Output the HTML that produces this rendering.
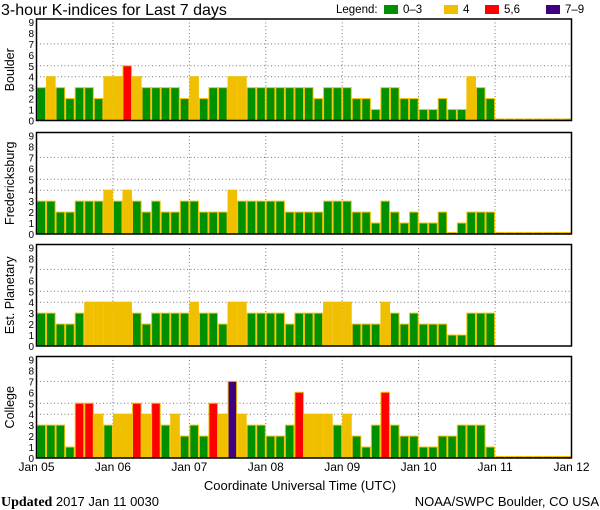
<!DOCTYPE html>
<html><head><meta charset="utf-8"><style>
body{margin:0;background:#fff;}
svg{display:block;font-family:"Liberation Sans",sans-serif;}
</style></head><body>
<svg id="chart" width="600" height="510" viewBox="0 0 600 510">
<text x="1" y="15" font-size="16" fill="#000">3-hour K-indices for Last 7 days</text>
<g font-size="11.5">
<text x="336" y="13">Legend:</text>
<rect x="384" y="5" width="14" height="9" fill="#009000"/>
<text x="403" y="13">0–3</text>
<rect x="444" y="5" width="14" height="9" fill="#f0c000"/>
<text x="463" y="13">4</text>
<rect x="485" y="5" width="14" height="9" fill="#ff0000"/>
<text x="504" y="13">5,6</text>
<rect x="546" y="5" width="14" height="9" fill="#400080"/>
<text x="565" y="13">7–9</text>
</g>
<g id="panels"></g>
<text x="300" y="490" font-size="13" text-anchor="middle">Coordinate Universal Time (UTC)</text>
<text x="1" y="506" font-size="14" font-family="Liberation Serif, serif"><tspan font-weight="bold">Updated</tspan> <tspan font-family="Liberation Sans, sans-serif" font-size="13">2017 Jan 11 0030</tspan></text>
<text x="599" y="506" font-size="13" text-anchor="end">NOAA/SWPC Boulder, CO USA</text>
</svg>
<script>
const stations = ["Boulder", "Fredericksburg", "Est. Planetary", "College"];
const boulderK = [3,4,3,2,3,3,2,4, 4,5,4,3,3,3,3,2, 4,2,3,3,4,4,3,3, 3,3,3,3,3,2,3,3, 3,2,2,1,3,3,2,2, 1,1,2,1,1,4,3,2, 0,0,0,0,0,0,0,0];
const fredK = [3,3,2,2,3,3,3,4, 3,4,3,2,3,2,2,3, 3,2,2,2,4,3,3,3, 3,3,2,2,2,2,3,3, 3,2,2,1,3,2,1,2, 1,1,2,0,1,2,2,2, 0,0,0,0,0,0,0,0];
const planetaryK = [3,3,2,2,3,4,4,4, 4,4,3,2,3,3,3,3, 4,3,3,2,4,4,3,3, 3,3,2,3,3,3,4,4, 4,2,2,2,4,3,2,3, 2,2,2,1,1,3,3,3, null,null,null,null,null,null,null,null];
const collegeK = [3,3,3,1,5,5,4,3, 4,4,5,4,5,3,4,2, 3,2,5,4,7,4,3,3, 2,2,3,6,4,4,4,3, 4,2,1,3,6,3,2,2, 1,1,2,2,3,3,3,1, 0,0,0,0,0,0,0,0];
const dayLabels = ["Jan 05","Jan 06","Jan 07","Jan 08","Jan 09","Jan 10","Jan 11","Jan 12"];
const yTicks = [0,1,2,3,4,5,6,7,8,9];
const gridLevels = [4,5,7];
const series = [boulderK, fredK, planetaryK, collegeK];

const NS = "http://www.w3.org/2000/svg";
const X0 = 36.5, X1 = 571.5, UNIT = 10.95;
const bottoms = [120.5, 234, 346, 458];
const nBars = 56;
function xScale(i){ return X0 + (X1 - X0) * i / nBars; }
function yScale(v, b){ return b - v * UNIT; }
function colorFor(k){ return k <= 3 ? "#009000" : k === 4 ? "#f0c000" : k <= 6 ? "#ff0000" : "#400080"; }
function mk(tag, attrs, parent){
  const e = document.createElementNS(NS, tag);
  for (const k in attrs) e.setAttribute(k, attrs[k]);
  parent.appendChild(e); return e;
}
const root = document.getElementById("panels");
series.forEach((data, p) => {
  const b = bottoms[p], top = b - 101.5;
  const g = mk("g", {}, root);
  
  
  gridLevels.forEach(l => {
    const ln = mk("line", {x1:X0, x2:X1, y1:yScale(l,b), y2:yScale(l,b), stroke:"#777", "stroke-width":1, "stroke-dasharray":"1,2.5"}, g);
    
    
  });
  for (let d = 1; d < 7; d++) {
    const x = xScale(d*8);
    const ln = mk("line", {x1:x, x2:x, y1:top, y2:b, stroke:"#777", "stroke-width":1, "stroke-dasharray":"1,2.5"}, g);
    
    
  }
  data.forEach((v, i) => {
    if (v === null) return;
    const x = xScale(i), w = xScale(i+1) - x;
    const h = v === 0 ? 1.5 : v * UNIT;
    const r = mk("rect", {x:x+0.5, y:b-h, width:w-1, height:h, fill:colorFor(v), stroke:"#f0c000", "stroke-width":1}, g);
    
    
  });
  const frame = mk("rect", {x:X0, y:top, width:X1-X0, height:b-top, fill:"none", stroke:"#000", "stroke-width":1.5}, g);
  
  
  yTicks.forEach(t => {
    const tx = mk("text", {x:34, y:yScale(t,b)+4, "font-size":10, "text-anchor":"end"}, g);
    tx.textContent = t;
    
    
  });
  const cy = (top + b) / 2;
  const lab = mk("text", {x:14, y:cy, "font-size":12.5, "text-anchor":"middle", transform:"rotate(-90 14 " + cy + ")"}, g);
  lab.textContent = stations[p];
  
  
});
dayLabels.forEach((d, i) => {
  const t = mk("text", {x:xScale(i*8), y:471, "font-size":12, "text-anchor":"middle"}, root);
  t.textContent = d;
  
  
});
</script>
</body></html>
